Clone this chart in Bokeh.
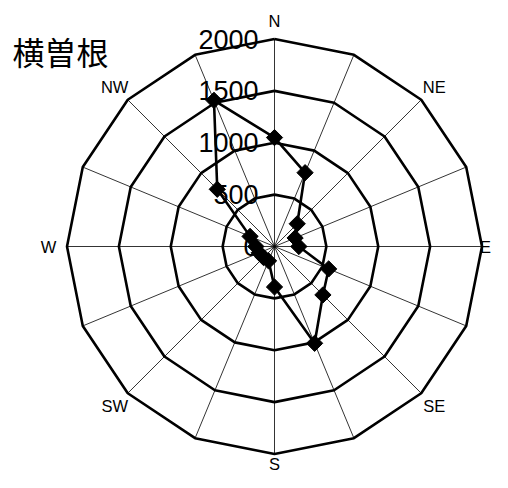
import numpy as np
from bokeh.plotting import figure
from bokeh.core.properties import value
from bokeh.embed import file_html
from bokeh.resources import INLINE

title_text = "横曽根"
directions = ["N", "NNE", "NE", "ENE", "E", "ESE", "SE", "SSE",
              "S", "SSW", "SW", "WSW", "W", "WNW", "NW", "NNW"]
counts = [1050, 770, 310, 215, 235, 565, 660, 1010,
          390, 150, 150, 160, 180, 255, 780, 1525]
ring_values = [500, 1000, 1500, 2000]
ring_labels = ["0", "500", "1000", "1500", "2000"]
ring_label_values = [0, 500, 1000, 1500, 2000]
compass_labels = ["N", "NE", "E", "SE", "S", "SW", "W", "NW"]
compass_angles_deg = [0, 45, 90, 135, 180, 225, 270, 315]

W, H = 492, 472
k = 2000 / 207.5          # data units per pixel
cx_px, cy_px = 274, 246   # centre in figure pixels (from left / top)

p = figure(width=W, height=H, output_backend="svg", toolbar_location=None,
           x_range=(-cx_px * k, (W - cx_px) * k),
           y_range=(-(H - cy_px) * k, cy_px * k),
           min_border=0, match_aspect=False)
p.axis.visible = False
p.grid.visible = False
p.outline_line_color = None
p.background_fill_color = "white"

theta = np.deg2rad(np.arange(16) * 22.5)
rmax = ring_values[-1]

# spokes
p.segment(x0=np.zeros(16), y0=np.zeros(16), x1=rmax * np.sin(theta), y1=rmax * np.cos(theta),
          line_color="black", line_width=0.8)

# rings
for rv in ring_values:
    xs = list(rv * np.sin(theta)) + [0.0]
    ys = list(rv * np.cos(theta)) + [rv]
    p.line(xs, ys, line_color="black", line_width=2.6)

# ring value labels
p.text(x=[-16 * k] * len(ring_labels), y=ring_label_values, text=ring_labels,
       text_align="right", text_baseline="middle",
       text_font=value("Liberation Sans"), text_font_size="27px", text_color="black")

# data
vals = np.array(counts, dtype=float)
dx = vals * np.sin(theta)
dy = vals * np.cos(theta)
p.line(list(dx) + [dx[0]], list(dy) + [dy[0]], line_color="black", line_width=2.6)
p.scatter(dx, dy, marker="square", size=11.5, angle=np.pi / 4,
          fill_color="black", line_color="black", line_width=1)

# compass labels
lab_r = 226 * k
ang = np.deg2rad(compass_angles_deg)
lx = lab_r * np.sin(ang)
ly = lab_r * np.cos(ang)
lx[2] = (W - 7 - cx_px) * k      # E: keep inside the frame
ly[4] = -(H - 9 - cy_px) * k     # S: keep inside the frame
p.text(x=lx, y=ly, text=compass_labels, text_align="center", text_baseline="middle",
       text_font=value("Liberation Sans"), text_font_size="16.5px", text_color="black")

# title
p.text(x=[(12 - cx_px) * k], y=[(cy_px - 50) * k], text=[title_text],
       text_align="left", text_baseline="middle",
       text_font=value("Noto Sans CJK JP"), text_font_size="32px", text_color="black")

open("out.html", "w").write(file_html(p, INLINE))
